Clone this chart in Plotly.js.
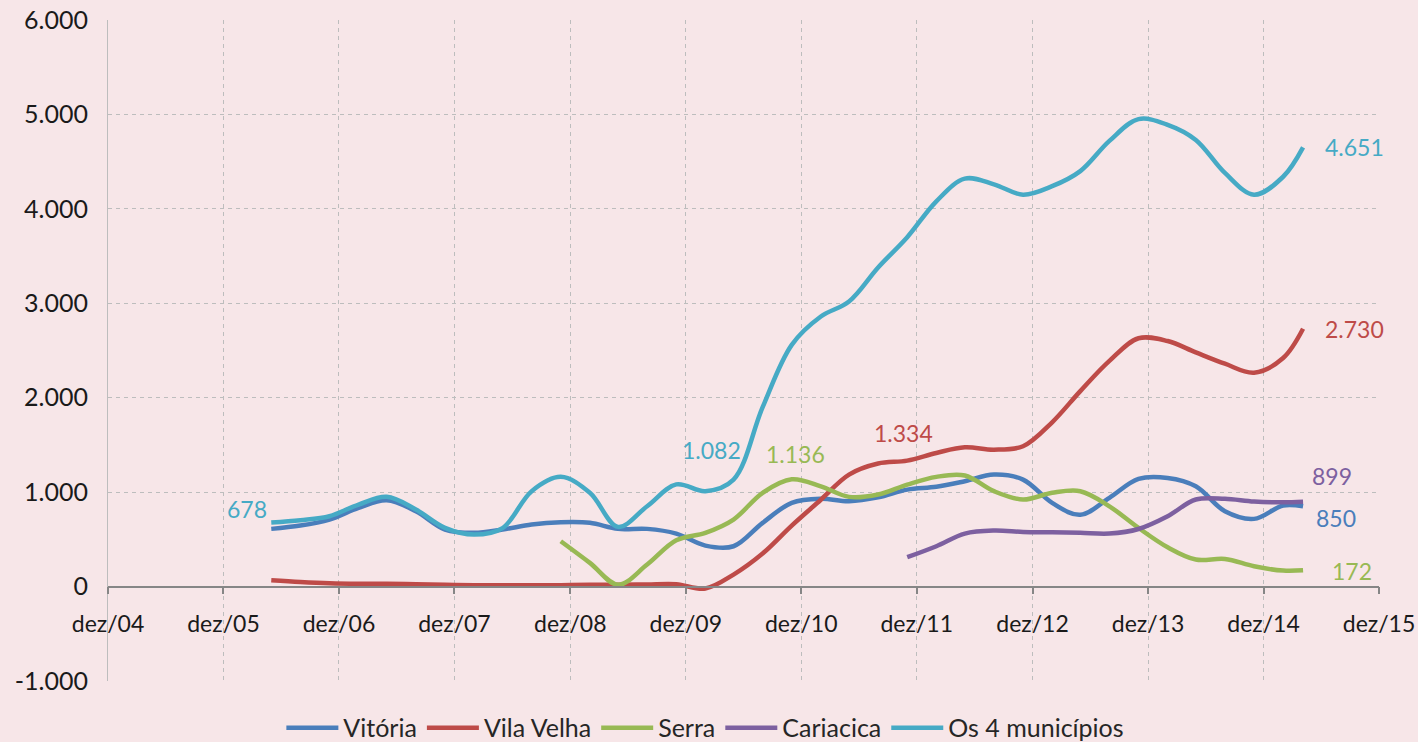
<!DOCTYPE html>
<html>
<head>
<meta charset="utf-8">
<script src="https://cdn.plot.ly/plotly-3.0.1.min.js"></script>
<style>
  html, body { margin: 0; padding: 0; background: #F7E6E8; }
  #chart { width: 1418px; height: 742px; }
</style>
</head>
<body>
<div id="chart"></div>
<script>
// ---- Data ----
const dates = [
  "2006-05-01","2006-08-01","2006-11-01","2007-02-01","2007-05-01","2007-08-01","2007-11-01",
  "2008-02-01","2008-05-01","2008-08-01","2008-11-01","2009-02-01","2009-05-01","2009-08-01",
  "2009-11-01","2010-02-01","2010-05-01","2010-08-01","2010-11-01","2011-02-01","2011-05-01",
  "2011-08-01","2011-11-01","2012-02-01","2012-05-01","2012-08-01","2012-11-01","2013-02-01",
  "2013-05-01","2013-08-01","2013-11-01","2014-02-01","2014-05-01","2014-08-01","2014-11-01",
  "2015-02-01","2015-04-05"
];

const vitoria = [611, 646, 710, 834, 914, 798, 604, 569, 604, 657, 681, 675, 611, 611, 561, 434, 427, 675, 886, 929, 904, 945, 1027, 1056, 1115, 1186, 1133, 886, 760, 940, 1140, 1150, 1062, 797, 717, 858, 850];

const vilaVelha = [67, 48, 35, 30, 30, 25, 18, 15, 15, 15, 15, 18, 18, 22, 25, -20, 127, 350, 646, 920, 1186, 1303, 1334, 1415, 1475, 1450, 1486, 1740, 2070, 2390, 2630, 2600, 2480, 2360, 2265, 2420, 2730];

const serra = [null, null, null, null, null, null, null, null, null, null,
  480, 251, 20, 233, 490, 569, 710, 993, 1136, 1062, 950, 975, 1080, 1162, 1176, 1010, 922, 993, 1010, 850, 621, 416, 286, 293, 215, 169, 172];

const cariacica = [null, null, null, null, null, null, null, null, null, null, null,
  null, null, null, null, null, null, null, null, null, null, null,
  311, 427, 561, 593, 579, 575, 569, 561, 610, 745, 922, 929, 900, 893, 899];

const os4 = [678, 703, 745, 869, 950, 816, 622, 551, 620, 1010, 1162, 993, 632, 851, 1082, 1010, 1133, 1900, 2560, 2860, 3020, 3380, 3700, 4080, 4320, 4260, 4150, 4240, 4400, 4720, 4950, 4890, 4730, 4380, 4150, 4340, 4651];

const seriesNames = ["Vitória", "Vila Velha", "Serra", "Cariacica", "Os 4 municípios"];

const xTickDates = ["2004-12-01","2005-12-01","2006-12-01","2007-12-01","2008-12-01","2009-12-01",
  "2010-12-01","2011-12-01","2012-12-01","2013-12-01","2014-12-01","2015-12-01"];
const xTickLabels = ["dez/04","dez/05","dez/06","dez/07","dez/08","dez/09",
  "dez/10","dez/11","dez/12","dez/13","dez/14","dez/15"];

const yTickVals = [-1000, 0, 1000, 2000, 3000, 4000, 5000, 6000];
const yTickLabels = ["-1.000", "0", "1.000", "2.000", "3.000", "4.000", "5.000", "6.000"];

// ---- Styling ----
const colors = ["#4A7EBB", "#BE4B48", "#98B954", "#7D60A0", "#46AAC5"];
const allSeries = [vitoria, vilaVelha, serra, cariacica, os4];
const FONT = "Lato, 'Open Sans', sans-serif";

const traces = allSeries.map((vals, k) => ({
  type: "scatter",
  mode: "lines",
  name: seriesNames[k],
  x: dates,
  y: vals,
  connectgaps: false,
  line: { color: colors[k], width: 4.5, shape: "spline", smoothing: 1 },
  hoverinfo: "x+y+name"
}));

function fmt(v) {
  const s = String(Math.abs(Math.round(v))).replace(/\B(?=(\d{3})+(?!\d))/g, ".");
  return (v < 0 ? "-" : "") + s;
}

// label definitions: series index, point index, placement
const labelDefs = [
  { s: 4, i: 0,  xanchor: "right",  xshift: -2, yshift: 14 },
  { s: 4, i: 14, xanchor: "left",   xshift: 4,  yshift: 34 },
  { s: 2, i: 18, xanchor: "center", xshift: 4,  yshift: 25 },
  { s: 1, i: 22, xanchor: "center", xshift: -4, yshift: 28 },
  { s: 4, i: 36, xanchor: "left",   xshift: 20, yshift: 0 },
  { s: 1, i: 36, xanchor: "left",   xshift: 20, yshift: 0 },
  { s: 3, i: 36, xanchor: "left",   xshift: 7,  yshift: 26 },
  { s: 0, i: 36, xanchor: "left",   xshift: 11, yshift: -12 },
  { s: 2, i: 36, xanchor: "left",   xshift: 27, yshift: -1 }
];

const annotations = labelDefs.map(d => ({
  x: dates[d.i],
  y: allSeries[d.s][d.i],
  xref: "x", yref: "y",
  text: fmt(allSeries[d.s][d.i]),
  showarrow: false,
  xanchor: d.xanchor,
  yanchor: "middle",
  xshift: d.xshift,
  yshift: d.yshift,
  font: { family: FONT, size: 23, color: colors[d.s] }
}));

const layout = {
  width: 1418,
  height: 742,
  margin: { l: 108, r: 39, t: 20, b: 61, pad: 0, autoexpand: false },
  paper_bgcolor: "#F7E6E8",
  plot_bgcolor: "rgba(0,0,0,0)",
  showlegend: true,
  legend: {
    orientation: "h",
    x: 0.47, xanchor: "center",
    y: -0.071, yanchor: "middle",
    font: { family: FONT, size: 25, color: "#262626" },
    bgcolor: "rgba(0,0,0,0)",
    itemwidth: 52,
    tracegroupgap: 0
  },
  xaxis: {
    type: "date",
    range: ["2004-12-01", "2015-12-01"],
    tickmode: "array",
    tickvals: xTickDates,
    ticktext: xTickLabels,
    ticks: "outside",
    ticklen: 7,
    tickwidth: 1.5,
    tickcolor: "#868686",
    showline: true,
    linecolor: "#868686",
    linewidth: 1.5,
    showgrid: true,
    gridcolor: "#BDBDBD",
    gridwidth: 1,
    griddash: "4px,4px",
    zeroline: false,
    anchor: "free",
    position: 1 / 7,
    ticklabelstandoff: 10,
    tickfont: { family: FONT, size: 23, color: "#1a1a1a" },
    fixedrange: true
  },
  yaxis: {
    range: [-1000, 6000],
    tickmode: "array",
    tickvals: yTickVals,
    ticktext: yTickLabels,
    ticks: "",
    showline: true,
    linecolor: "#BDBDBD",
    linewidth: 1,
    showgrid: true,
    gridcolor: "#BDBDBD",
    gridwidth: 1,
    griddash: "4px,4px",
    zeroline: false,
    ticklabelstandoff: 14,
    tickfont: { family: FONT, size: 25, color: "#1a1a1a" },
    fixedrange: true
  },
  annotations: annotations,
  font: { family: FONT }
};

Plotly.newPlot("chart", traces, layout, { displayModeBar: false, staticPlot: false });
</script>
</body>
</html>
